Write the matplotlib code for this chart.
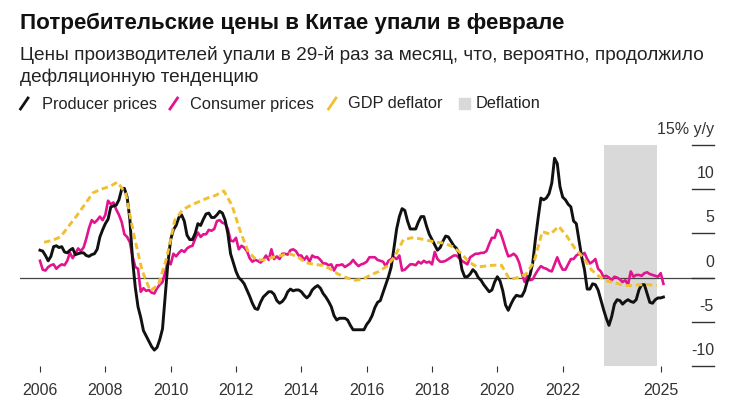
import numpy as np
import matplotlib.pyplot as plt
from matplotlib.lines import Line2D
from matplotlib.patches import Rectangle

plt.rcParams['font.family'] = ['Liberation Sans', 'DejaVu Sans']

# monthly y/y, Jan 2006 .. Feb 2025
ppi = [3.1, 3.0, 2.5, 1.9, 2.4, 3.5, 3.6, 3.4, 3.5, 2.9, 2.8, 3.1,
       3.3, 2.6, 2.7, 2.8, 2.8, 2.5, 2.4, 2.6, 2.7, 3.2, 4.6, 5.4,
       6.1, 6.6, 8.0, 8.1, 8.2, 8.8, 10.0, 10.1, 9.1, 6.6, 2.0, -1.1,
       -3.3, -4.5, -6.0, -6.6, -7.2, -7.8, -8.2, -7.9, -7.0, -5.8, -2.1, 1.7,
       4.3, 5.4, 5.9, 6.8, 7.1, 6.4, 4.8, 4.3, 4.3, 5.0, 6.1, 5.9,
       6.6, 7.2, 7.3, 6.8, 6.8, 7.1, 7.5, 7.3, 6.5, 5.0, 2.7, 1.7,
       0.7, 0.0, -0.3, -0.7, -1.4, -2.1, -2.9, -3.5, -3.6, -2.8, -2.2, -1.9,
       -1.6, -1.6, -1.9, -2.6, -2.9, -2.7, -2.3, -1.6, -1.3, -1.5, -1.4, -1.4,
       -1.6, -2.0, -2.3, -2.0, -1.4, -1.1, -0.9, -1.2, -1.8, -2.2, -2.7, -3.3,
       -4.3, -4.8, -4.6, -4.6, -4.6, -4.8, -5.4, -5.9, -5.9, -5.9, -5.9, -5.9,
       -5.3, -4.9, -4.3, -3.4, -2.8, -2.6, -1.7, -0.8, 0.1, 1.2, 3.3, 5.5,
       6.9, 7.8, 7.6, 6.4, 5.5, 5.5, 5.5, 6.3, 6.9, 6.9, 5.8, 4.9,
       4.3, 3.7, 3.1, 3.4, 4.1, 4.7, 4.6, 4.1, 3.6, 3.3, 2.7, 0.9,
       0.1, 0.1, 0.4, 0.9, 0.6, 0.0, -0.3, -0.8, -1.2, -1.6, -1.4, -0.5,
       0.1, -0.4, -1.5, -3.1, -3.7, -3.0, -2.4, -2.0, -2.1, -2.1, -1.5, -0.4,
       0.3, 1.7, 4.4, 6.8, 9.0, 8.8, 9.0, 9.5, 10.7, 13.5, 12.9, 10.3,
       9.1, 8.8, 8.3, 8.0, 6.4, 6.1, 4.2, 2.3, 0.9, -1.3, -1.3, -0.7,
       -0.8, -1.4, -2.5, -3.6, -4.6, -5.4, -4.4, -3.0, -2.5, -2.6, -3.0, -2.7,
       -2.5, -2.7, -2.8, -2.5, -1.4, -0.8, -0.8, -1.8, -2.8, -2.9, -2.5, -2.3,
       -2.3, -2.2]

cpi = [1.9, 0.9, 0.8, 1.2, 1.4, 1.5, 1.0, 1.3, 1.5, 1.4, 1.9, 2.8,
       2.2, 2.7, 3.3, 3.0, 3.4, 4.4, 5.6, 6.5, 6.2, 6.5, 6.9, 6.5,
       7.1, 8.7, 8.3, 8.5, 7.7, 7.1, 6.3, 4.9, 4.6, 4.0, 2.4, 1.2,
       1.0, -1.6, -1.2, -1.5, -1.4, -1.7, -1.8, -1.2, -0.8, -0.5, 0.6, 1.9,
       1.5, 2.7, 2.4, 2.8, 3.1, 2.9, 3.3, 3.5, 3.6, 4.4, 5.1, 4.6,
       4.9, 4.9, 5.4, 5.3, 5.5, 6.4, 6.5, 6.2, 6.1, 5.5, 4.2, 4.1,
       4.5, 3.2, 3.6, 3.4, 3.0, 2.2, 1.8, 2.0, 1.9, 1.7, 2.0, 2.5,
       2.0, 3.2, 2.1, 2.4, 2.1, 2.7, 2.7, 2.6, 3.1, 3.2, 3.0, 2.5,
       2.5, 2.0, 2.4, 1.8, 2.5, 2.3, 2.3, 2.0, 1.6, 1.6, 1.4, 1.5,
       0.8, 1.4, 1.4, 1.5, 1.2, 1.4, 1.6, 2.0, 1.6, 1.3, 1.5, 1.6,
       1.8, 2.3, 2.3, 2.3, 2.0, 1.9, 1.8, 1.3, 1.9, 2.1, 2.3, 2.1,
       2.5, 0.8, 0.9, 1.2, 1.5, 1.5, 1.4, 1.8, 1.6, 1.9, 1.7, 1.8,
       1.5, 2.9, 2.1, 1.8, 1.8, 1.9, 2.1, 2.3, 2.5, 2.5, 2.2, 1.9,
       1.7, 1.5, 2.3, 2.5, 2.7, 2.7, 2.8, 2.8, 3.0, 3.8, 4.5, 4.5,
       5.4, 5.2, 4.3, 3.3, 2.4, 2.5, 2.7, 2.4, 1.7, 0.5, -0.5, 0.2,
       -0.3, -0.2, 0.4, 0.9, 1.3, 1.1, 1.0, 0.8, 0.7, 1.5, 2.3, 1.5,
       0.9, 0.9, 1.5, 2.1, 2.1, 2.5, 2.7, 2.5, 2.8, 2.1, 1.6, 1.8,
       2.1, 1.0, 0.7, 0.1, 0.2, 0.0, -0.3, 0.1, 0.0, -0.2, -0.5, -0.3,
       -0.8, 0.7, 0.1, 0.3, 0.3, 0.2, 0.5, 0.6, 0.4, 0.3, 0.2, 0.1,
       0.5, -0.7]

# quarterly y/y, Q1 2006 .. Q4 2024
gdp_deflator = [4.0, 4.2, 4.6, 5.8,
                7.0, 8.3, 9.6, 10.0,
                10.3, 10.8, 9.5, 4.8,
                0.8, -1.5, -0.8, 2.2,
                6.5, 7.7, 8.2, 8.6,
                9.0, 9.3, 9.8, 8.2,
                5.3, 2.9, 2.0, 2.0,
                2.3, 2.5, 2.7, 2.4,
                1.7, 1.5, 1.4, 1.0,
                0.4, 0.0, -0.3, -0.2,
                0.3, 0.7, 1.3, 2.5,
                4.3, 4.5, 4.4, 4.2,
                4.0, 3.9, 3.5, 2.8,
                1.8, 1.2, 1.3, 1.4,
                1.4, -0.2, 0.0, 0.4,
                1.8, 5.2, 4.9, 5.8,
                4.7, 3.3, 2.3, 0.9,
                0.1, -0.4, -0.6, -0.9,
                -0.9, -0.8, -0.8, -0.9]

deflation_start, deflation_end = 2023.25, 2024.9
x_ticks = [2006, 2008, 2010, 2012, 2014, 2016, 2018, 2020, 2022, 2025]
y_ticks = [15, 10, 5, 0, -5, -10]
y_labels = ['15% y/y', '10', '5', '0', '-5', '-10']

W, H = 742, 416
fig = plt.figure(figsize=(W / 100, H / 100), dpi=100)

def fx(px):
    return px / W

def fy(py):
    return 1 - py / H

# pixel layout of the plot area
left, right, top, bottom = 20, 714, 145, 366
ax = fig.add_axes([fx(left), fy(bottom), fx(right - left), (bottom - top) / H])
ppy = 32.67  # pixels per year
x0 = 2006 - (40 - left) / ppy
x1 = 2025 + (right - 660.7) / ppy
ax.set_xlim(x0, x1)
ax.set_ylim(-10, 15)
for s in ax.spines.values():
    s.set_visible(False)

t_month = 2006 + np.arange(len(ppi)) / 12
t_quarter = 2006.125 + np.arange(len(gdp_deflator)) / 4

pink = '#e3138f'
gold = '#f0c030'

ax.axvspan(deflation_start, deflation_end, color='#d9d9d9', lw=0, zorder=0)
ax.axhline(0, color='#444444', lw=0.9, zorder=1)
ax.plot(t_month, cpi, color=pink, lw=1.9, zorder=2)
ax.plot(t_month, ppi, color='#111111', lw=2.1, zorder=3)
ax.plot(t_quarter, gdp_deflator, color=gold, lw=2.1, dashes=(2.2, 1.3), zorder=4)

# right-hand value scale: short rules with labels above them
tx0 = 2025 + (692 - 660.7) / ppy
for yv, lab in zip(y_ticks, y_labels):
    ax.plot([tx0, x1], [yv, yv], color='#333333', lw=1.0, clip_on=False)
    ax.text(x1, yv + 1.75, lab, ha='right', va='center', fontsize=11.5,
            color='#333333', clip_on=False)

ax.set_yticks([])
ax.set_xticks(x_ticks)
ax.set_xticklabels([str(t) for t in x_ticks])
ax.tick_params(axis='x', length=4, width=0.8, color='#333333', pad=8,
               labelsize=11.5, labelcolor='#333333')

# headings
fig.text(fx(20), fy(28.5), 'Потребительские цены в Китае упали в феврале',
         fontsize=16.1, fontweight='bold', color='#111111', va='baseline')
fig.text(fx(20), fy(59.5),
         'Цены производителей упали в 29-й раз за месяц, что, вероятно, продолжило',
         fontsize=13.7, color='#222222', va='baseline')
fig.text(fx(20), fy(81.5), 'дефляционную тенденцию',
         fontsize=13.7, color='#222222', va='baseline')

# legend
legend_items = [('Producer prices', '#111111', 20.5, 41.5),
                ('Consumer prices', pink, 170, 190.5),
                ('GDP deflator', gold, 328.5, 348)]
for lab, col, sx, tx in legend_items:
    fig.add_artist(Line2D([fx(sx), fx(sx + 7.5)], [fy(109), fy(98)],
                          color=col, lw=2.0, transform=fig.transFigure))
    fig.text(fx(tx), fy(108.5), lab, fontsize=11.8, color='#222222', va='baseline')
fig.add_artist(Rectangle((fx(459), fy(108.5)), fx(10.5), 10.5 / H,
                         color='#d9d9d9', transform=fig.transFigure))
fig.text(fx(475.5), fy(108.5), 'Deflation', fontsize=11.8, color='#222222',
         va='baseline')

fig.savefig('out.png', dpi=100)
